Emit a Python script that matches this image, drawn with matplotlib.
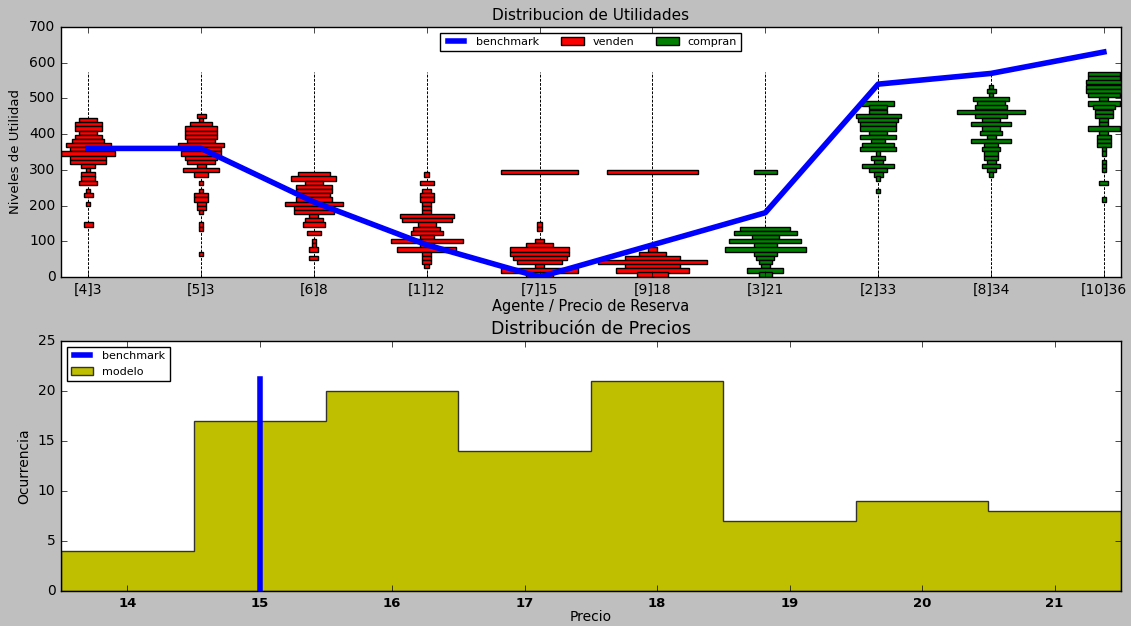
import numpy as np
import matplotlib.pyplot as plt
from matplotlib.lines import Line2D
from matplotlib.patches import Patch

plt.style.use('classic')

# agentes (id y precio de reserva), los 6 primeros venden y los 4 ultimos compran
agentes = ['[4]3', '[5]3', '[6]8', '[1]12', '[7]15', '[9]18', '[3]21', '[2]33', '[8]34', '[10]36']
vendedores = 6
benchmark_util = [360, 360, 210, 90, 0, 90, 180, 540, 570, 630]

# histogramas de utilidad de cada agente: nivel de utilidad y numero de casos
niv_4_3 = [439, 428, 416, 404, 393, 381, 369, 358, 346, 334, 322, 311, 299, 287, 276, 264, 241, 229, 205, 147]
cnt_4_3 = [4, 6, 6, 4, 6, 7, 10, 8, 12, 8, 8, 3, 1, 3, 3, 4, 1, 2, 1, 2]

niv_5_3 = [451, 439, 428, 416, 404, 393, 381, 369, 358, 346, 334, 322, 311, 299, 287, 264, 241, 229, 217, 205,
           194, 182, 147, 135, 65]
cnt_5_3 = [2, 1, 5, 7, 7, 7, 6, 10, 9, 9, 7, 6, 2, 8, 3, 1, 1, 3, 3, 2, 2, 1, 1, 1, 1]

niv_6_8 = [287, 276, 264, 252, 241, 229, 217, 205, 194, 182, 170, 159, 147, 124, 100, 88, 77, 53]
cnt_6_8 = [7, 10, 4, 8, 8, 7, 8, 13, 9, 9, 2, 4, 5, 3, 1, 1, 2, 2]

niv_1_12 = [287, 264, 241, 229, 217, 205, 194, 182, 170, 159, 147, 135, 124, 112, 100, 88, 77, 65, 53, 42, 30]
cnt_1_12 = [1, 3, 2, 3, 3, 2, 2, 2, 12, 11, 4, 6, 7, 3, 16, 3, 13, 2, 2, 2, 1]

niv_7_15 = [293, 147, 135, 100, 88, 77, 65, 53, 42, 30, 18, 7]
cnt_7_15 = [17, 1, 1, 2, 6, 13, 13, 12, 10, 2, 17, 6]

niv_9_18 = [293, 77, 65, 53, 42, 30, 18, 7]
cnt_9_18 = [20, 2, 6, 12, 24, 12, 16, 7]

niv_3_21 = [293, 135, 124, 112, 100, 88, 77, 65, 53, 42, 30, 18, 7]
cnt_3_21 = [5, 11, 14, 6, 16, 5, 18, 5, 4, 3, 2, 8, 3]

niv_2_33 = [486, 475, 463, 451, 439, 428, 416, 404, 393, 381, 369, 358, 346, 334, 322, 311, 299, 287, 276, 241]
cnt_2_33 = [7, 4, 4, 10, 9, 8, 8, 4, 8, 3, 7, 8, 1, 3, 2, 7, 4, 2, 1, 1]

niv_8_34 = [533, 521, 510, 498, 486, 475, 463, 451, 439, 428, 416, 404, 393, 381, 369, 358, 346, 334, 322, 311,
            299, 287]
cnt_8_34 = [1, 2, 1, 8, 6, 7, 15, 7, 4, 9, 4, 5, 2, 9, 3, 4, 3, 3, 2, 4, 2, 1]

niv_10_36 = [568, 556, 545, 533, 521, 510, 498, 486, 475, 463, 451, 439, 428, 416, 404, 393, 381, 369, 358, 346,
             322, 311, 299, 264, 217]
cnt_10_36 = [7, 7, 8, 8, 8, 7, 2, 7, 5, 4, 4, 2, 2, 7, 2, 3, 3, 3, 1, 1, 1, 1, 1, 2, 1]

niveles = [niv_4_3, niv_5_3, niv_6_8, niv_1_12, niv_7_15, niv_9_18, niv_3_21, niv_2_33, niv_8_34, niv_10_36]
conteos = [cnt_4_3, cnt_5_3, cnt_6_8, cnt_1_12, cnt_7_15, cnt_9_18, cnt_3_21, cnt_2_33, cnt_8_34, cnt_10_36]
util_max = 574

# distribucion de precios
precios = [14, 15, 16, 17, 18, 19, 20, 21]
ocurrencias = [4, 17, 20, 14, 21, 7, 9, 8]
precio_benchmark = 15
altura_benchmark = 21.2

fig = plt.figure(figsize=(11.31, 6.26), dpi=100, facecolor='0.75')
ax1 = fig.add_axes([0.054, 0.5575, 0.937, 0.3994])
ax2 = fig.add_axes([0.054, 0.0559, 0.937, 0.3994])

ancho = 0.04     # ancho de barra por caso
alto = 11.7      # alto de cada clase de utilidad
pos = np.arange(len(agentes))
for i in pos:
    n = np.array(conteos[i]) * ancho
    col = 'r' if i < vendedores else 'g'
    ax1.vlines(i, 0, util_max, colors='k', linestyles=(0, (2, 1)), lw=0.7, zorder=1)
    ax1.barh(niveles[i], n, left=i - n / 2, height=alto, align='center',
             color=col, edgecolor='k', lw=1, zorder=2)
ax1.plot(pos, benchmark_util, 'b', lw=4, zorder=3)

ax1.set_xlim(-0.24, 9.15)
ax1.set_ylim(0, 700)
ax1.set_xticks(pos)
ax1.set_xticklabels(agentes, fontsize=10)
ax1.tick_params(axis='y', labelsize=10)
ax1.set_title('Distribucion de Utilidades', fontsize=11)
ax1.set_xlabel('Agente / Precio de Reserva', fontsize=10.5, labelpad=2)
ax1.set_ylabel('Niveles de Utilidad', fontsize=9.5)
hs = [Line2D([], [], color='b', lw=4), Patch(fc='r', ec='k'), Patch(fc='g', ec='k')]
ax1.legend(hs, ['benchmark', 'venden', 'compran'], loc='upper center', ncol=3, fontsize=8)

ax2.plot([precio_benchmark, precio_benchmark], [0, altura_benchmark], 'b', lw=4, label='benchmark', zorder=3)
bordes = np.arange(13.5, 22.0, 1.0)
ax2.hist(precios, bins=bordes, weights=ocurrencias, histtype='stepfilled',
         color='y', edgecolor='0.2', lw=1, label='modelo', zorder=2)
ax2.set_xlim(13.5, 21.5)
ax2.set_ylim(0, 25)
ax2.set_xticks(precios)
ax2.set_xticklabels([str(p) for p in precios], fontsize=9.5, fontweight='bold')
ax2.tick_params(axis='y', labelsize=10)
ax2.set_title(u'Distribución de Precios', fontsize=12.5)
ax2.set_xlabel('Precio', fontsize=10, labelpad=0)
ax2.set_ylabel('Ocurrencia', fontsize=10)
ax2.legend(loc='upper left', fontsize=8)

fig.savefig('out.png', dpi=100, facecolor=fig.get_facecolor())
